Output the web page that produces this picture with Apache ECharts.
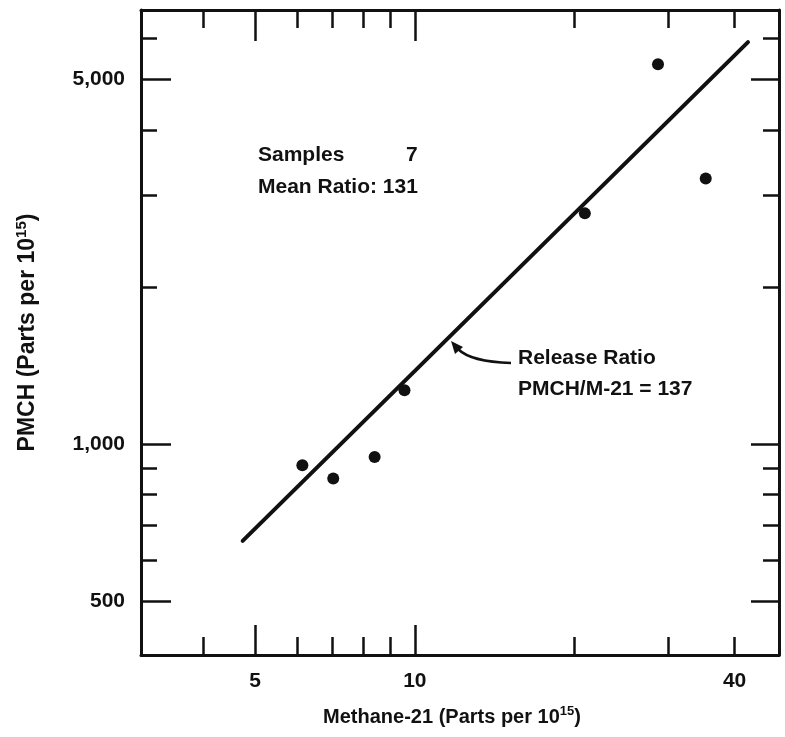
<!DOCTYPE html>
<html>
<head>
<meta charset="utf-8">
<script src="https://cdn.jsdelivr.net/npm/echarts@6/dist/echarts.min.js"></script>
<style>
  html, body { margin: 0; background: #fff; }
  #chart { width: 785px; height: 737px; }
</style>
</head>
<body>
<div id="chart"></div>
<script>
// 样本点
const methane = [6.14, 7.02, 8.40, 9.56, 20.9, 28.7, 35.3];
const pmch = [911, 859, 945, 1268, 2770, 5350, 3230];

// 释放比例线的两端
const ratioLineX = [4.74, 42.4];
const ratioLineY = [652, 5900];

// 刻度
const xMajorTicks = [5, 10];
const xMinorTicks = [4, 6, 7, 8, 9, 20, 30, 40];
const xTickLabels = [5, 10, 40];
const yMajorTicks = [500, 1000, 5000];
const yMinorTicks = [600, 700, 800, 900, 2000, 3000, 4000, 6000];
const yTickLabels = [500, 1000, 5000];

const ink = '#111';
const font = 'Liberation Sans';
const xRange = { min: 3.05, max: 48.5 };
const yRange = { min: 394, max: 6800 };

// 一个坐标轴 (四边都有刻度, 长短刻度分开画)
function makeAxis(range, position, ticks, len, withLine) {
  return {
    type: 'log',
    logBase: 10,
    position: position,
    min: range.min,
    max: range.max,
    axisLine: { show: withLine, onZero: false, lineStyle: { color: ink, width: 3 } },
    axisTick: {
      show: true,
      inside: true,
      length: len,
      customValues: ticks,
      lineStyle: { color: ink, width: 2.5 }
    },
    axisLabel: { show: false },
    splitLine: { show: false }
  };
}

const labelStyle = {
  show: true,
  fontFamily: font,
  fontSize: 21,
  fontWeight: 'bold',
  color: ink
};

function nameStyle(size, supSize, extra) {
  return Object.assign({
    fontFamily: font,
    fontSize: size,
    fontWeight: 'bold',
    color: ink,
    rich: {
      sup: { fontFamily: font, fontSize: supSize, fontWeight: 'bold', color: ink, padding: [0, 0, Math.round(size * 0.55), 0] }
    }
  }, extra || {});
}

const xBottom = makeAxis(xRange, 'bottom', xMajorTicks, 30, true);
xBottom.axisLabel = Object.assign({}, labelStyle, { customValues: xTickLabels, margin: 16 });
xBottom.name = 'Methane-21 (Parts per 10{sup|15})';
xBottom.nameLocation = 'middle';
xBottom.nameGap = 50;
xBottom.nameTextStyle = nameStyle(20, 13, { padding: [0, 16, 0, 0] });

const yLeft = makeAxis(yRange, 'left', yMajorTicks, 30, true);
yLeft.axisLabel = Object.assign({}, labelStyle, {
  customValues: yTickLabels,
  margin: 16,
  formatter: v => Number(v).toLocaleString('en-US')
});
yLeft.name = 'PMCH (Parts per 10{sup|15})';
yLeft.nameLocation = 'middle';
yLeft.nameGap = 99;
yLeft.nameTextStyle = nameStyle(23, 15);

const option = {
  backgroundColor: '#fff',
  animation: false,
  grid: { left: 141, right: 6, top: 10, bottom: 82 },
  xAxis: [
    xBottom,
    makeAxis(xRange, 'bottom', xMinorTicks, 18, false),
    makeAxis(xRange, 'top', xMajorTicks, 31, true),
    makeAxis(xRange, 'top', xMinorTicks, 18, false)
  ],
  yAxis: [
    yLeft,
    makeAxis(yRange, 'left', yMinorTicks, 16, false),
    makeAxis(yRange, 'right', yMajorTicks, 28, true),
    makeAxis(yRange, 'right', yMinorTicks, 16, false)
  ],
  series: [
    {
      name: 'Release Ratio',
      type: 'line',
      xAxisIndex: 0,
      yAxisIndex: 0,
      data: ratioLineX.map((x, i) => [x, ratioLineY[i]]),
      showSymbol: false,
      lineStyle: { color: ink, width: 4, cap: 'round' },
      silent: true
    },
    {
      name: 'Samples',
      type: 'scatter',
      xAxisIndex: 0,
      yAxisIndex: 0,
      data: methane.map((x, i) => [x, pmch[i]]),
      symbol: 'circle',
      symbolSize: 12,
      itemStyle: { color: ink, opacity: 1 }
    }
  ],
  graphic: [
    { type: 'text', x: 258, y: 155, style: { text: 'Samples', font: 'bold 21px "Liberation Sans"', fill: ink, verticalAlign: 'middle' } },
    { type: 'text', x: 406, y: 155, style: { text: '7', font: 'bold 21px "Liberation Sans"', fill: ink, verticalAlign: 'middle' } },
    { type: 'text', x: 258, y: 187, style: { text: 'Mean Ratio: 131', font: 'bold 21px "Liberation Sans"', fill: ink, verticalAlign: 'middle' } },
    { type: 'text', x: 518, y: 358, style: { text: 'Release Ratio', font: 'bold 21px "Liberation Sans"', fill: ink, verticalAlign: 'middle' } },
    { type: 'text', x: 518, y: 389, style: { text: 'PMCH/M-21 = 137', font: 'bold 21px "Liberation Sans"', fill: ink, verticalAlign: 'middle' } },
    // 指向直线的箭头
    {
      type: 'bezierCurve',
      shape: { x1: 511, y1: 363, cpx1: 478, cpy1: 362, cpx2: 464, cpy2: 355, x2: 458, y2: 349 },
      style: { stroke: ink, lineWidth: 2.5, fill: null }
    },
    {
      type: 'polygon',
      shape: { points: [[451, 341], [463, 347], [455, 354]] },
      style: { fill: ink }
    }
  ]
};

const myChart = echarts.init(document.getElementById('chart'));
myChart.setOption(option);
</script>
</body>
</html>
